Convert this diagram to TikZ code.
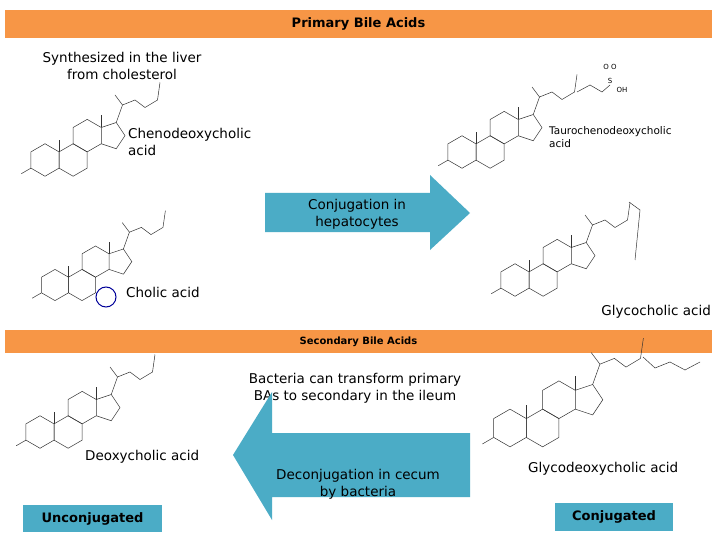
\documentclass[tikz,border=0pt]{standalone}
\usepackage{fontspec}
\setmainfont{DejaVu Sans}
\definecolor{bann}{HTML}{F79646}
\definecolor{teal}{HTML}{4BACC6}
\tikzset{
 banner/.style={fill=bann,draw=none,minimum width=707pt,inner sep=0pt},
 lbl/.style={inner sep=0pt,font=\fontsize{13.5}{17}\selectfont},
 tagbox/.style={fill=teal,draw=none,inner sep=4pt,font=\bfseries\fontsize{13}{15}\selectfont},
 bond/.style={line width=0.5pt,black!80},
 pics/steroid/.style={code={
  \foreach \cx/\cy in {0/0,22.5/0,33.75/-19.5}{
   \draw[bond] (\cx+11.25,\cy-6.5)--(\cx,\cy-13)--(\cx-11.25,\cy-6.5)--(\cx-11.25,\cy+6.5)--(\cx,\cy+13)--(\cx+11.25,\cy+6.5)--cycle;}
  \draw[bond] (45,-26)--(57,-30)--(64,-19.5)--(57,-9)--(45,-13);
  \draw[bond] (57,-30)--(62,-44)--(72,-48)--(80,-42)--(90,-48)--(92,-62);
  \draw[bond] (62,-44)--(56,-52);
  \draw[bond] (11.25,-6.5)--(11.25,-16);
  \draw[bond] (45,-26)--(45,-36);
  \draw[bond] (-11.25,6.5)--(-19,11);
 }}
}
\begin{document}
\begin{tikzpicture}[x=1pt,y=-1pt]
\useasboundingbox (0,0) rectangle (720,540);
\fill[white] (0,0) rectangle (720,540);
\node[banner,minimum height=28pt,font=\bfseries\fontsize{13}{15}\selectfont] (b1) at (358.5,24) {Primary Bile Acids};
\node[banner,minimum height=23pt,font=\bfseries\fontsize{10}{12}\selectfont] (b2) at (358.5,341.5) {Secondary Bile Acids};

\node[lbl,align=center] (syn) at (122,66) {Synthesized in the liver\\from cholesterol};

\pic[scale=1.25] at (45,160) {steroid};
\node[lbl,align=left,anchor=west] (cheno) at (128,142) {Chenodeoxycholic\\acid};
\pic[scale=1.25] at (462,152) {steroid};
\draw[bond] (577,92)--(590,85)--(602,92)--(610,85);
\node[font=\fontsize{7}{8}\selectfont,inner sep=1pt] (so3) at (610,67) {O O};
\node[font=\fontsize{7}{8}\selectfont,inner sep=1pt] (sulf) at (610,81) {S};
\node[font=\fontsize{7}{8}\selectfont,inner sep=1pt] (soh) at (622,90) {OH};
\node[lbl,align=left,anchor=west,font=\fontsize{10.5}{13}\selectfont] (tauro) at (549,137) {Taurochenodeoxycholic\\acid};

\fill[teal] (265,193) -- (430,193) -- (430,175) -- (470,213) -- (430,250) -- (430,232) -- (265,232) -- cycle;
\node[lbl,align=center] (conjt) at (357,214) {Conjugation in\\hepatocytes};

\pic[scale=1.2] at (55,285) {steroid};
\draw[blue!60!black,line width=1pt] (106,297) circle (10);
\node[lbl,anchor=west] (cholic) at (126,292) {Cholic acid};
\pic[scale=1.25] at (515,280) {steroid};
\draw[bond] (629,202)--(640,210)--(635,260);
\node[lbl,anchor=east] (glyco) at (711,312) {Glycocholic acid};

\node[lbl,align=center] (bact) at (355,388) {Bacteria can transform primary\\BAs to secondary in the ileum};
\pic[scale=1.25] at (40,432) {steroid};
\node[lbl,anchor=west] (deoxy) at (85,457) {Deoxycholic acid};
\pic[scale=1.45] at (510,428) {steroid};
\draw[bond] (643,357)--(655,368)--(670,362)--(685,370)--(700,362);
\node[lbl,anchor=west] (gdeoxy) at (528,469) {Glycodeoxycholic acid};

\fill[teal] (233,455) -- (272,392) -- (272,433) -- (470,433) -- (470,497) -- (272,497) -- (272,520) -- cycle;
\node[lbl,align=center] (deconjt) at (358,484) {Deconjugation in cecum\\by bacteria};

\node[tagbox,minimum width=139pt,minimum height=27pt] (uncon) at (92.5,518.5) {Unconjugated};
\node[tagbox,minimum width=118pt,minimum height=28pt] (con) at (614,517) {Conjugated};
\end{tikzpicture}
\end{document}
